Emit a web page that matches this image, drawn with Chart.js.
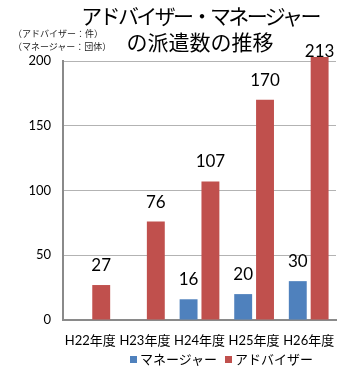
<!DOCTYPE html>
<html lang="ja">
<head>
<meta charset="utf-8">
<script src="https://cdn.jsdelivr.net/npm/chart.js@4/dist/chart.umd.min.js"></script>
<style>
    html, body { margin: 0; padding: 0; background: #fff; }
    #wrap { position: relative; width: 353px; height: 367px; overflow: hidden; }
    #chart { position: absolute; left: 0; top: 0; }
    .title {
        position: absolute; left: 60px; width: 280px; text-align: center;
        font-family: "Noto Sans CJK JP", sans-serif; font-size: 21px; color: #000;
        line-height: 26px; white-space: nowrap;
    }
    .unit {
        position: absolute; left: 13px; font-family: "Noto Sans CJK JP", sans-serif;
        font-size: 9px; color: #222; line-height: 13px; white-space: nowrap;
    }
    #legend {
        position: absolute; left: 130px; top: 351px; font-family: "Noto Sans CJK JP", sans-serif;
        font-size: 13px; color: #000; white-space: nowrap; line-height: 16px;
    }
    #legend span.box { display: inline-block; width: 7px; height: 7px; margin-right: 3px; vertical-align: 1px; }
    #legend span.item { margin-right: 8px; }
</style>
</head>
<body>
<div id="wrap">
    <canvas id="chart" width="353" height="367"></canvas>
    <div class="title" style="top:2px; letter-spacing:-2.6px;">アドバイザー・マネージャー</div>
    <div class="title" style="top:28px;">の派遣数の推移</div>
    <div class="unit" style="top:27px;">（アドバイザー：件）</div>
    <div class="unit" style="top:40px;">（マネージャー：団体）</div>
    <div id="legend"></div>
</div>
<script>
// 年度ごとの派遣数
const years = ["H22年度", "H23年度", "H24年度", "H25年度", "H26年度"];
const seriesNames = ["マネージャー", "アドバイザー"];
const managers = [null, null, 16, 20, 30];
const advisers = [27, 76, 107, 170, 213];
const yTicks = [0, 50, 100, 150, 200];

const colors = ["#4F81BD", "#C0504D"];

// 棒の上に数値を描く
const valueLabels = {
    id: 'valueLabels',
    afterDatasetsDraw(chart) {
        const ctx = chart.ctx;
        const area = chart.chartArea;
        ctx.save();
        ctx.font = '17px Lato, sans-serif';
        ctx.fillStyle = '#000';
        ctx.textAlign = 'center';
        ctx.textBaseline = 'alphabetic';
        chart.data.datasets.forEach((ds, i) => {
            const meta = chart.getDatasetMeta(i);
            meta.data.forEach((bar, j) => {
                const v = ds.data[j];
                if (v === null) return;
                const y = Math.max(bar.y - 14, area.top - 4);
                ctx.fillText(String(v), bar.x, y);
            });
        });
        ctx.restore();
    }
};

const chart = new Chart(document.getElementById('chart'), {
    type: 'bar',
    data: {
        labels: years,
        datasets: [
            { label: seriesNames[0], data: managers, backgroundColor: colors[0] },
            { label: seriesNames[1], data: advisers, backgroundColor: colors[1] }
        ]
    },
    options: {
        responsive: false,
        animation: false,
        events: [],
        layout: { padding: { left: 0, right: 17, top: 61, bottom: 17 } },
        datasets: {
            bar: {
                categoryPercentage: 0.8,
                barPercentage: 0.82,
                clip: { left: 0, top: 4, right: 0, bottom: 0 }
            }
        },
        plugins: {
            legend: { display: false },
            title: { display: false },
            tooltip: { enabled: false }
        },
        scales: {
            x: {
                grid: { display: false, drawTicks: false },
                border: { display: true, color: '#8a8a8a', width: 2 },
                ticks: { color: '#000', font: { family: 'Lato, "Noto Sans CJK JP"', size: 13 }, padding: 13, maxRotation: 0 },
                afterFit(scale) { scale.height = 30; }
            },
            y: {
                min: 0,
                max: 200,
                afterBuildTicks(scale) { scale.ticks = yTicks.map(v => ({ value: v })); },
                grid: { color: '#b3b3b3', lineWidth: 1, drawTicks: false },
                border: { display: true, color: '#8a8a8a', width: 2 },
                ticks: { color: '#000', font: { family: 'Lato', size: 13 }, padding: 12 },
                afterFit(scale) { scale.width = 63; }
            }
        }
    },
    plugins: [valueLabels]
});

// 凡例
const legend = document.getElementById('legend');
chart.data.datasets.forEach(ds => {
    const item = document.createElement('span');
    item.className = 'item';
    item.innerHTML = '<span class="box" style="background:' + ds.backgroundColor + '"></span>' + ds.label;
    legend.appendChild(item);
});
</script>
</body>
</html>
